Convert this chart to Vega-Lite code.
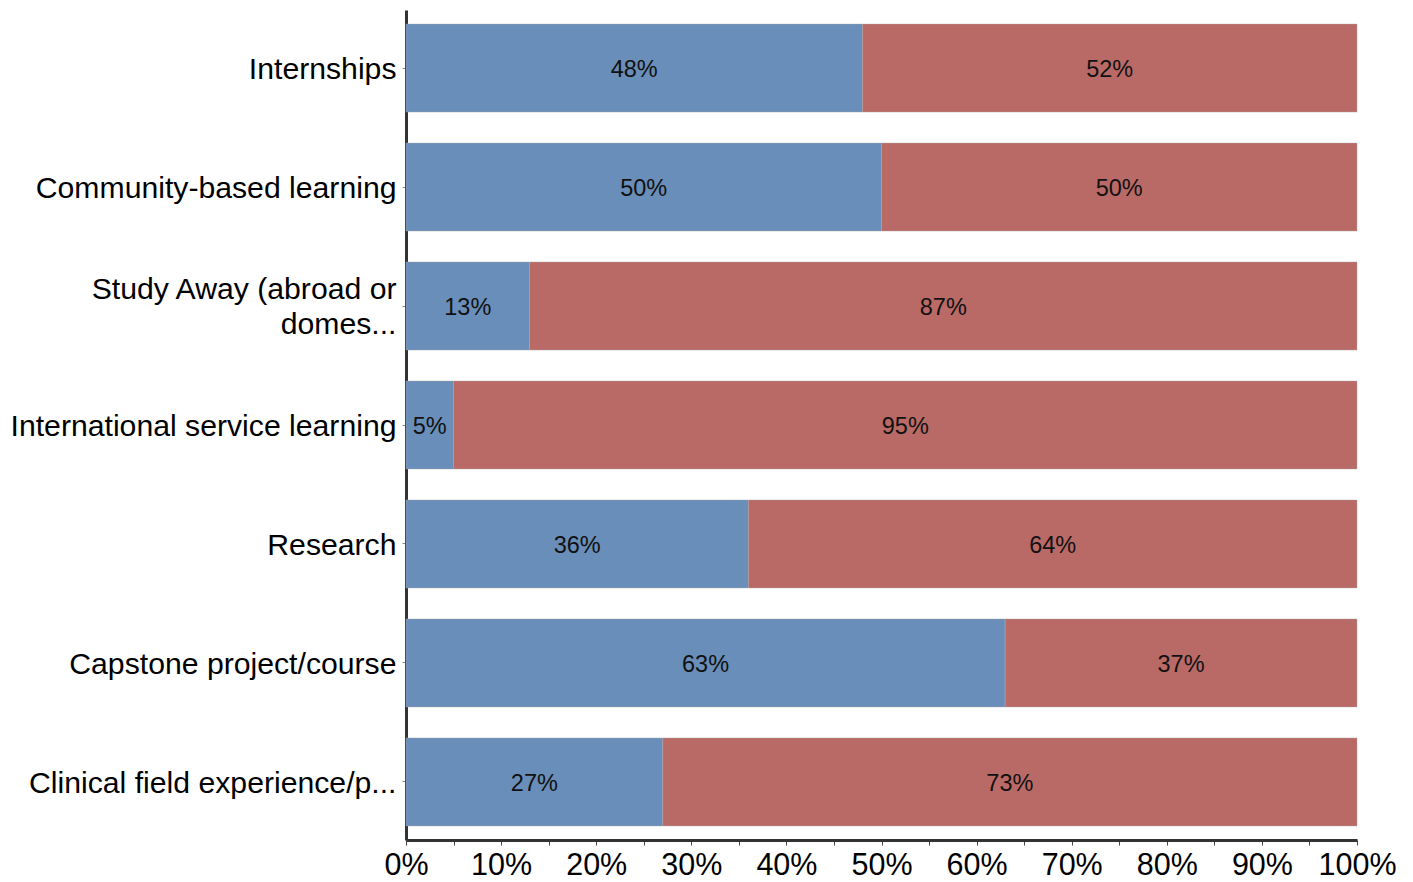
{
  "$schema": "https://vega.github.io/schema/vega-lite/v6.json",
  "width": 951,
  "height": 830,
  "padding": {"top": 10, "left": 10, "right": 5, "bottom": 5},
  "background": "white",
  "config": {
    "view": {"stroke": null},
    "font": "Liberation Sans"
  },
  "data": {
    "values": [
      {"category": "Internships", "response": "Yes", "value": 0.48},
      {"category": "Internships", "response": "No", "value": 0.52},
      {"category": "Community-based learning", "response": "Yes", "value": 0.50},
      {"category": "Community-based learning", "response": "No", "value": 0.50},
      {"category": "Study Away (abroad or domes...", "response": "Yes", "value": 0.13},
      {"category": "Study Away (abroad or domes...", "response": "No", "value": 0.87},
      {"category": "International service learning", "response": "Yes", "value": 0.05},
      {"category": "International service learning", "response": "No", "value": 0.95},
      {"category": "Research", "response": "Yes", "value": 0.36},
      {"category": "Research", "response": "No", "value": 0.64},
      {"category": "Capstone project/course", "response": "Yes", "value": 0.63},
      {"category": "Capstone project/course", "response": "No", "value": 0.37},
      {"category": "Clinical field experience/p...", "response": "Yes", "value": 0.27},
      {"category": "Clinical field experience/p...", "response": "No", "value": 0.73}
    ]
  },
  "transform": [
    {"stack": "value", "groupby": ["category"], "sort": [{"field": "response", "order": "descending"}], "as": ["v0", "v1"]},
    {"calculate": "(datum.v0 + datum.v1) / 2", "as": "mid"}
  ],
  "encoding": {
    "y": {
      "field": "category",
      "type": "nominal",
      "sort": null,
      "title": null,
      "scale": {"paddingInner": 0.26, "paddingOuter": 0.118},
      "axis": {
        "labelFontSize": 30.2,
        "labelColor": "#000",
        "labelLimit": 500,
        "labelPadding": 6,
        "tickSize": 4,
        "tickColor": "#888",
        "domainColor": "#333",
        "domainWidth": 3,
        "labelExpr": "datum.label == 'Study Away (abroad or domes...' ? ['Study Away (abroad or', 'domes...'] : datum.label",
        "labelLineHeight": 35,
        "labelOffset": {"condition": {"test": "datum.value == 'Study Away (abroad or domes...'", "value": -16}, "value": 2}
      }
    }
  },
  "layer": [
    {
      "mark": {"type": "bar", "stroke": "#aaa", "strokeWidth": 0.4},
      "encoding": {
        "x": {
          "field": "v0",
          "type": "quantitative",
          "title": null,
          "scale": {"domain": [0, 1], "nice": false},
          "axis": {
            "values": [0, 0.05, 0.1, 0.15, 0.2, 0.25, 0.3, 0.35, 0.4, 0.45, 0.5, 0.55, 0.6, 0.65, 0.7, 0.75, 0.8, 0.85, 0.9, 0.95, 1],
            "labelExpr": "round(datum.value * 100) % 10 == 0 ? format(datum.value, '.0%') : ''",
            "labelFontSize": 30.5,
            "labelColor": "#000",
            "labelFlush": false,
            "labelOverlap": false,
            "labelPadding": 5,
            "tickSize": 5,
            "tickColor": "#444",
            "domainColor": "#333",
            "domainWidth": 3,
            "grid": false
          }
        },
        "x2": {"field": "v1"},
        "color": {
          "field": "response",
          "type": "nominal",
          "scale": {"domain": ["Yes", "No"], "range": ["#698EB9", "#BA6A66"]},
          "legend": null
        }
      }
    },
    {
      "mark": {"type": "text", "fontSize": 23.5, "color": "#111", "baseline": "middle", "align": "center", "dy": 2},
      "encoding": {
        "x": {"field": "mid", "type": "quantitative"},
        "text": {"field": "value", "type": "quantitative", "format": ".0%"}
      }
    }
  ]
}
